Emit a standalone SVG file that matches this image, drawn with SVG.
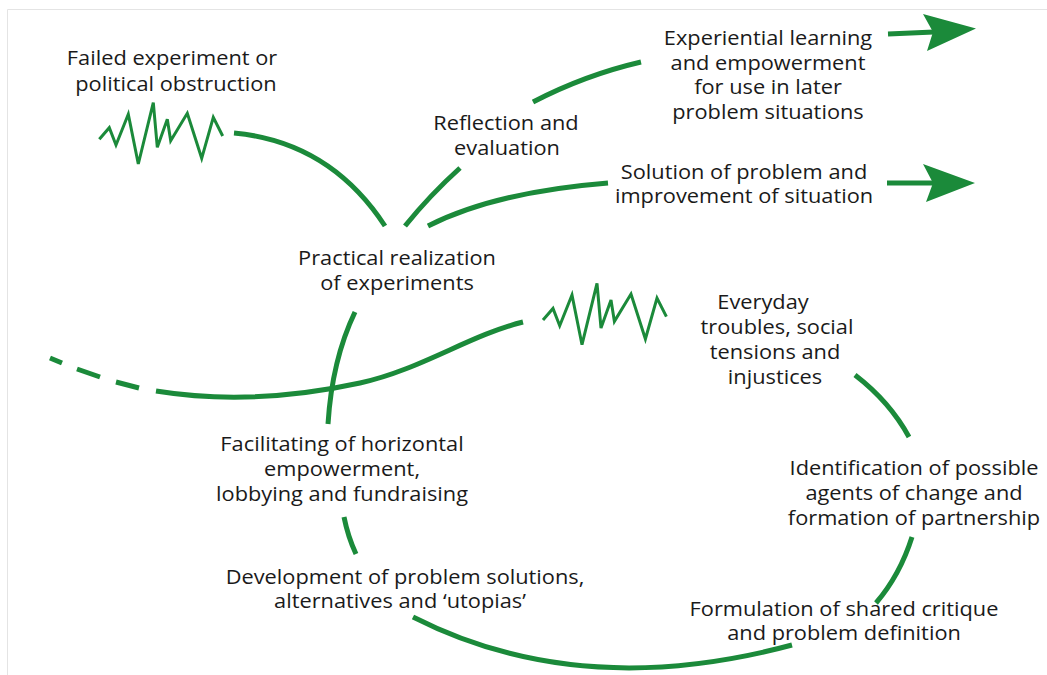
<svg xmlns="http://www.w3.org/2000/svg" width="1047" height="675" viewBox="0 0 1047 675">
<style>
.t{font-family:"Open Sans","Liberation Sans",sans-serif;font-size:20px;fill:#1a1a1a;text-anchor:middle}
.c{fill:none;stroke:#1b8a3a;stroke-width:5}
.z{fill:none;stroke:#1b8a3a;stroke-width:3;stroke-linejoin:miter}
.ah{fill:#1b8a3a}
</style>
<defs>
<path id="zig" d="M0,0 L10,-11.6 L16.7,5.7 L29,-25 L39,24.7 L54,-36.6 L58,8 L68,-20 L71.4,1.4 L88,-26 L102.4,19 L114,-22 L123.4,-3.3"/>
</defs>
<rect x="0" y="0" width="1047" height="675" fill="#ffffff"/>
<g id="frame">
<line x1="7.5" y1="9.5" x2="1047" y2="9.5" stroke="#e4e4e4" stroke-width="1"/>
<line x1="7.5" y1="9.5" x2="7.5" y2="675" stroke="#e4e4e4" stroke-width="1"/>
</g>
<g id="connectors">
<use href="#zig" class="z" transform="translate(99.3,139.3)"/>
<use href="#zig" class="z" transform="translate(543,320)"/>
<path class="c" d="M234,133 Q330,142 385,226"/>
<path class="c" d="M405,226 Q430,195 460,168"/>
<path class="c" d="M533,102 Q585,75 641,62"/>
<path class="c" d="M428,226 Q495,192 608,183"/>
<path class="c" d="M355,312 Q332,360 328,424"/>
<path class="c" d="M156,391 C230,403 300,396 360,383 C420,370 470,335 523,322"/>
<path class="c" d="M50,358 L62,363 M77,369 L100,377 M116,382 L139,388"/>
<path class="c" d="M855,375 Q890,402 909,437"/>
<path class="c" d="M912,537 Q900,575 876,603"/>
<path class="c" stroke-width="5.5" d="M413,617 Q580,702 792,645"/>
<path class="c" d="M344,517 Q348,537 356,554"/>
<path class="c" stroke-width="6" d="M888,34 L934,32"/>
<polygon class="ah" points="923,14 976,28.5 927,51 933,32"/>
<path class="c" stroke-width="6" d="M887,183 L934,183"/>
<polygon class="ah" points="923,164 975,183 926,202 933,183"/>
</g>
<g id="n-failed"><text class="t" transform="matrix(1.09,0,0,1,172,65)">Failed experiment or</text><text class="t" transform="matrix(1.09,0,0,1,176,91)">political obstruction</text></g>
<g id="n-experiential"><text class="t" transform="matrix(1.09,0,0,1,768,45)">Experiential learning</text><text class="t" transform="matrix(1.09,0,0,1,768,70)">and empowerment</text><text class="t" transform="matrix(1.09,0,0,1,768,94)">for use in later</text><text class="t" transform="matrix(1.09,0,0,1,768,119)">problem situations</text></g>
<g id="n-reflection"><text class="t" transform="matrix(1.09,0,0,1,506,130)">Reflection and</text><text class="t" transform="matrix(1.09,0,0,1,507,155)">evaluation</text></g>
<g id="n-solution"><text class="t" transform="matrix(1.09,0,0,1,744,179)">Solution of problem and</text><text class="t" transform="matrix(1.09,0,0,1,744,203)">improvement of situation</text></g>
<g id="n-practical"><text class="t" transform="matrix(1.09,0,0,1,397,265)">Practical realization</text><text class="t" transform="matrix(1.09,0,0,1,397,290)">of experiments</text></g>
<g id="n-everyday"><text class="t" transform="matrix(1.09,0,0,1,763,309)">Everyday</text><text class="t" transform="matrix(1.09,0,0,1,777,334)">troubles, social</text><text class="t" transform="matrix(1.09,0,0,1,775,359)">tensions and</text><text class="t" transform="matrix(1.09,0,0,1,775,384)">injustices</text></g>
<g id="n-facilitating"><text class="t" transform="matrix(1.09,0,0,1,342,451)">Facilitating of horizontal</text><text class="t" transform="matrix(1.09,0,0,1,342,476)">empowerment,</text><text class="t" transform="matrix(1.09,0,0,1,342,501)">lobbying and fundraising</text></g>
<g id="n-identification"><text class="t" transform="matrix(1.09,0,0,1,914,475)">Identification of possible</text><text class="t" transform="matrix(1.09,0,0,1,914,500)">agents of change and</text><text class="t" transform="matrix(1.09,0,0,1,914,525)">formation of partnership</text></g>
<g id="n-development"><text class="t" transform="matrix(1.09,0,0,1,405,584)">Development of problem solutions,</text><text class="t" transform="matrix(1.09,0,0,1,400,608)">alternatives and ‘utopias’</text></g>
<g id="n-formulation"><text class="t" transform="matrix(1.09,0,0,1,844,616)">Formulation of shared critique</text><text class="t" transform="matrix(1.09,0,0,1,844,640)">and problem definition</text></g>
</svg>
